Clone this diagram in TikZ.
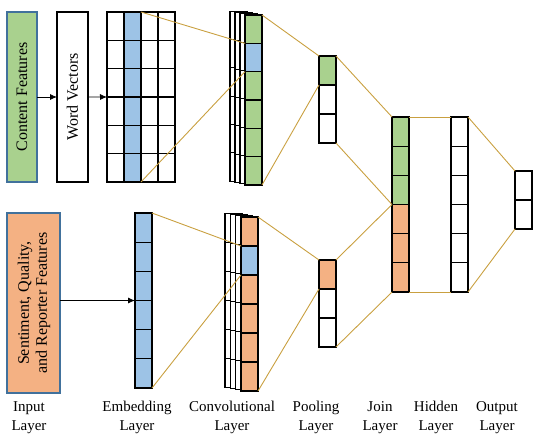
\documentclass[tikz,border=0pt]{standalone}
\usepackage{fontspec}
\setmainfont{Liberation Serif}
\usetikzlibrary{arrows.meta}
\definecolor{cgreen}{HTML}{A9D18E}
\definecolor{corange}{HTML}{F4B183}
\definecolor{cblue}{HTML}{9DC3E6}
\definecolor{cborder}{HTML}{41719C}
\definecolor{cgold}{HTML}{C9A040}
\begin{document}
\begin{tikzpicture}[x=1pt,y=-1pt,
  cell/.style={draw=black, line width=1.2pt, minimum width=17pt, inner sep=0pt, outer sep=0pt, anchor=north west},
  inbox/.style={draw=cborder, line width=1.2pt, inner sep=0pt, outer sep=0pt, font=\fontsize{16}{18}\selectfont},
  wbox/.style={draw=black, line width=1.2pt, inner sep=0pt, outer sep=0pt, font=\fontsize{16}{18}\selectfont},
  vtext/.style={rotate=90, align=center, inner sep=0pt, font=\fontsize{16}{18}\selectfont},
  link/.style={draw=cgold, line width=0.9pt},
  feed/.style={draw=black, line width=0.8pt, -{Latex[length=7pt,width=6pt]}},
  lab/.style={align=center, font=\fontsize{15}{19}\selectfont, inner sep=0pt}]
\useasboundingbox (0,0) rectangle (550,442);

% input boxes
\node[inbox, fill=cgreen, minimum width=30pt, minimum height=170pt] (content) at (22,97) {};
\node[vtext] (contenttxt) at (content.center) {Content Features};
\node[wbox, fill=white, minimum width=31pt, minimum height=170pt] (wv) at (72.5,97) {};
\node[vtext] (wvtxt) at (wv.center) {Word Vectors};
\node[inbox, fill=corange, minimum width=53pt, minimum height=180pt] (sent) at (33.5,303) {};
\node[vtext] (senttxt) at (34,303) {Sentiment, Quality,\\and Reporter Features};

% top embedding matrix
\foreach \c/\x/\col in {1/107/white,2/124/cblue,3/141/white,4/158/white}
  \foreach \i in {1,...,6}
    \node[cell, fill=\col, minimum height=28.33pt] (m\c-\i) at (\x,{12+(\i-1)*28.33}) {};

% top convolutional stack (back columns)
\foreach \k/\x/\y in {a/230/11.2,b/235/12.5,c/240/13.8}
  \foreach \i in {1,...,6}
    \node[cell, fill=white, minimum height=28.33pt] (tc\k-\i) at (\x,{\y+(\i-1)*28.33}) {};
% top convolutional front column
\foreach \i/\col in {1/cgreen,2/cblue,3/cgreen,4/cgreen,5/cgreen,6/cgreen}
  \node[cell, fill=\col, minimum height=28.33pt] (tc\i) at (245,{15+(\i-1)*28.33}) {};

% top pooling
\foreach \i/\col in {1/cgreen,2/white,3/white}
  \node[cell, fill=\col, minimum height=29pt] (tp\i) at (319,{56+(\i-1)*29}) {};

% bottom embedding column
\foreach \i in {1,...,6}
  \node[cell, fill=cblue, minimum height=29.17pt] (be\i) at (135,{213+(\i-1)*29.17}) {};

% bottom convolutional stack (back columns)
\foreach \k/\x/\y in {a/225/213.2,b/230.3/214.4,c/235.6/215.7}
  \foreach \i in {1,...,6}
    \node[cell, fill=white, minimum height=29pt] (bc\k-\i) at (\x,{\y+(\i-1)*29}) {};
\foreach \i/\col in {1/corange,2/cblue,3/corange,4/corange,5/corange,6/corange}
  \node[cell, fill=\col, minimum height=29pt] (bc\i) at (241,{217+(\i-1)*29}) {};

% bottom pooling
\foreach \i/\col in {1/corange,2/white,3/white}
  \node[cell, fill=\col, minimum height=29pt] (bp\i) at (319,{260+(\i-1)*29}) {};

% join layer
\foreach \i/\col in {1/cgreen,2/cgreen,3/cgreen,4/corange,5/corange,6/corange}
  \node[cell, fill=\col, minimum height=29.17pt] (j\i) at (392,{117+(\i-1)*29.17}) {};

% hidden layer
\foreach \i in {1,...,6}
  \node[cell, fill=white, minimum height=29.17pt] (h\i) at (451,{117+(\i-1)*29.17}) {};

% output layer
\foreach \i in {1,2}
  \node[cell, fill=white, minimum height=29pt] (o\i) at (515,{171+(\i-1)*29}) {};

% feed arrows
\draw[feed] (content.east) -- (wv.west);
\draw[feed] (wv.east) -- (m1-3.south west);
\draw[feed] (sent.east |- be3.south) -- (be3.south west);

% gold connectors
\draw[link] (m2-1.north east) -- (tc2.north west);
\draw[link] (m2-6.south east) -- (tc2.south west);
\draw[link] (tc1.north east) -- (tp1.north west);
\draw[link] (tc6.south east) -- (tp1.south west);
\draw[link] (tp1.north east) -- (j1.north west);
\draw[link] (tp3.south east) -- (j3.south west);
\draw[link] (be1.north east) -- (bc2.north west);
\draw[link] (be6.south east) -- (bc2.south west);
\draw[link] (bc1.north east) -- (bp1.north west);
\draw[link] (bc6.south east) -- (bp1.south west);
\draw[link] (bp1.north east) -- (j4.north west);
\draw[link] (bp3.south east) -- (j6.south west);
\draw[link, line width=0.7pt] (j1.north east) -- (h1.north west);
\draw[link, line width=0.7pt] (j6.south east) -- (h6.south west);
\draw[link] (h1.north east) -- (o1.north west);
\draw[link] (h6.south east) -- (o2.south west);

% layer labels
\node[lab] (l1) at (29,417.5) {Input\\Layer};
\node[lab] (l2) at (137,417.5) {Embedding\\Layer};
\node[lab] (l3) at (232,417.5) {Convolutional\\Layer};
\node[lab] (l4) at (316,417.5) {Pooling\\Layer};
\node[lab] (l5) at (380,417.5) {Join\\Layer};
\node[lab] (l6) at (436,417.5) {Hidden\\Layer};
\node[lab] (l7) at (497,417.5) {Output\\Layer};
\end{tikzpicture}
\end{document}
